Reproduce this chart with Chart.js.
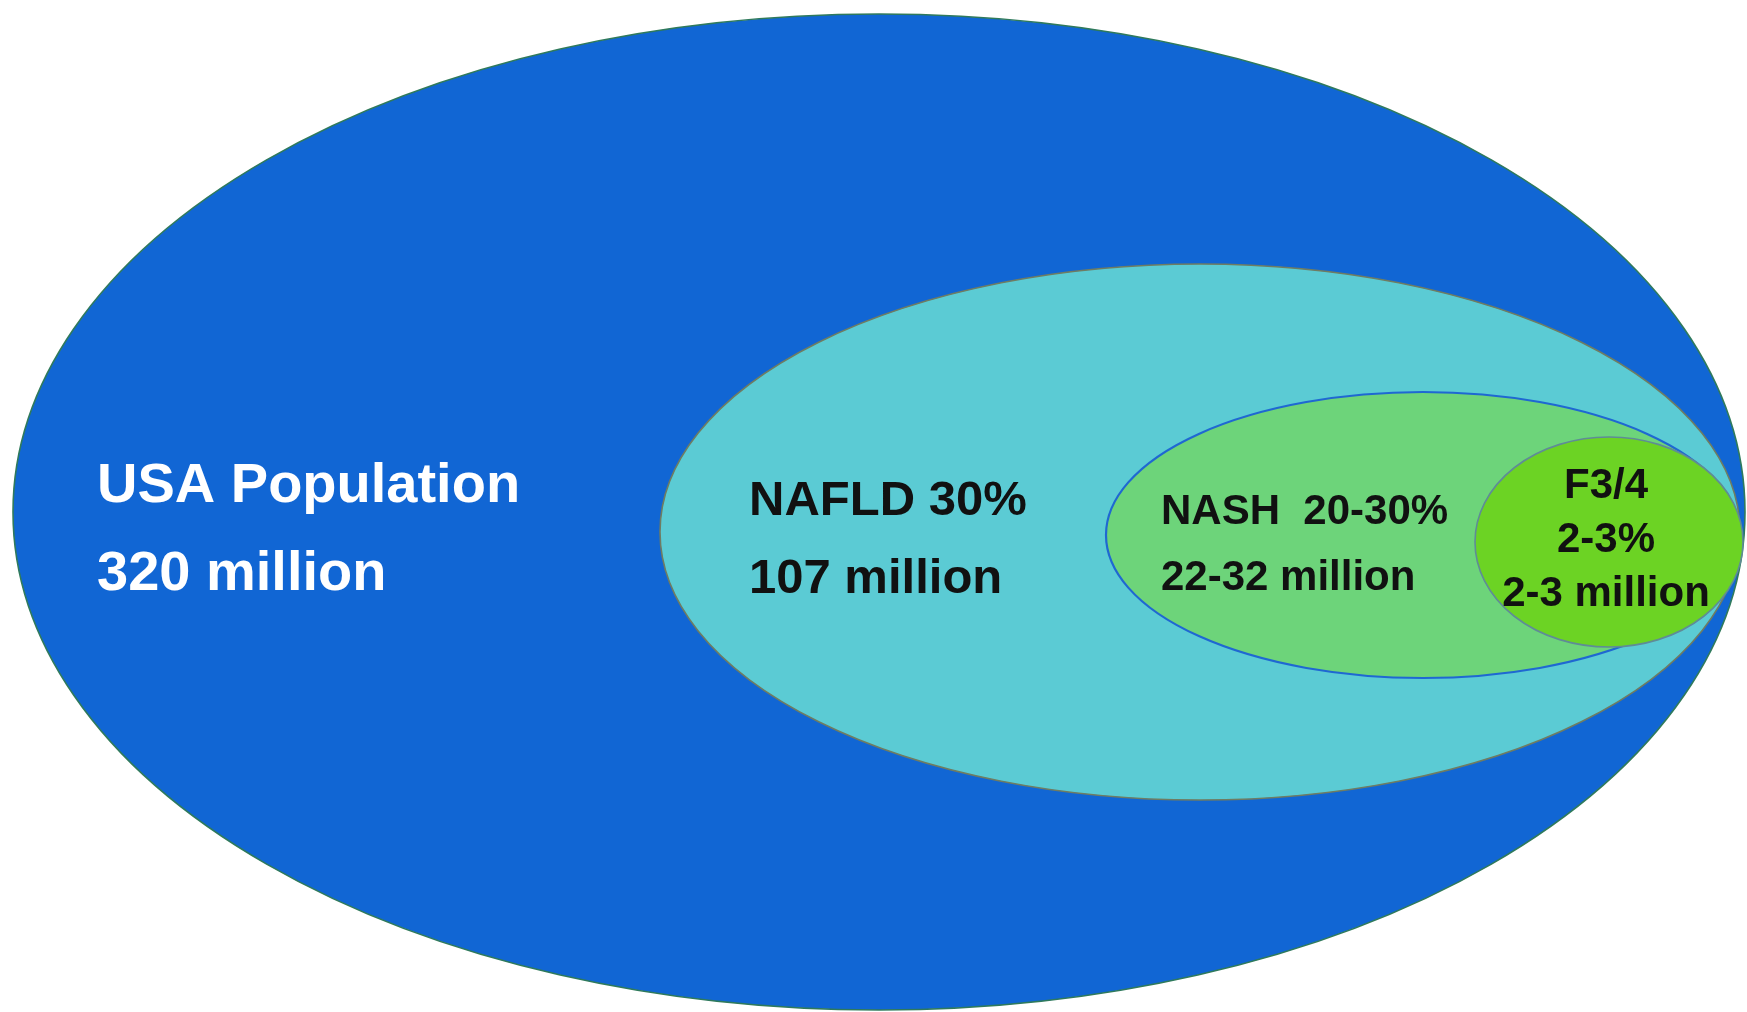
<!DOCTYPE html>
<html>
<head>
<meta charset="utf-8">
<title>USA NAFLD / NASH</title>
<script src="https://cdn.jsdelivr.net/npm/chart.js@4.4.1/dist/chart.umd.min.js"></script>
<style>
    html, body { margin: 0; padding: 0; background: #ffffff; overflow: hidden; }
    #wrap { width: 1747px; height: 1012px; }
</style>
</head>
<body>
<div id="wrap"><canvas id="diagram" width="1747" height="1012"></canvas></div>
<script>
// Datos: grupos anidados, de la poblacion total hacia adentro
const groups = ['USA Population', 'NAFLD', 'NASH', 'F3/4'];
const shares = ['', '30%', '20-30%', '2-3%'];
const counts = ['320 million', '107 million', '22-32 million', '2-3 million'];

// Extension de cada elipse en unidades del diagrama (centro y semiejes)
const centerX = [879, 1200, 1423, 1609];
const centerY = [512, 532, 535, 542];
const radiusX = [866, 540, 317, 134];
const radiusY = [498, 268, 143, 105];

const fills = ['#1166d4', '#5bcbd4', '#6dd47a', '#6cd324'];
const edges = ['#2f7a5c', '#6f7c62', '#1f68d2', '#5f8c96'];

// Donde va cada bloque de texto (primera linea) y como se alinea
const labelSpots = [
    { x: 97, y: 502, align: 'left', size: 56, gap: 88, color: '#ffffff' },
    { x: 749, y: 515, align: 'left', size: 49, gap: 78, color: '#111111' },
    { x: 1161, y: 524, align: 'left', size: 42, gap: 66, color: '#111111' },
    { x: 1606, y: 498, align: 'center', size: 42, gap: 54, color: '#111111' }
];

function labelLines(i) {
    if (i === 0) return [groups[0], counts[0]];
    if (i === 2) return [groups[2] + '  ' + shares[2], counts[2]];
    if (i === 3) return [groups[3], shares[3], counts[3]];
    return [groups[i] + ' ' + shares[i], counts[i]];
}

// Plugin que pinta las elipses usando las escalas del grafico
const ellipsePlugin = {
    id: 'ellipses',
    beforeDatasetsDraw(chart) {
        const ctx = chart.ctx;
        const xs = chart.scales.x;
        const ys = chart.scales.y;
        const meta = chart.data.datasets[0].data;
        ctx.save();
        meta.forEach((d, i) => {
            const px = xs.getPixelForValue(d.x);
            const py = ys.getPixelForValue(d.y);
            const rx = Math.abs(xs.getPixelForValue(d.x + d.rx) - px);
            const ry = Math.abs(ys.getPixelForValue(d.y + d.ry) - py);
            ctx.beginPath();
            ctx.ellipse(px, py, rx, ry, 0, 0, Math.PI * 2);
            ctx.fillStyle = fills[i];
            ctx.fill();
            ctx.lineWidth = i === 2 ? 2.2 : 1.6;
            ctx.strokeStyle = edges[i];
            ctx.stroke();
        });
        ctx.restore();
    },
    afterDatasetsDraw(chart) {
        const ctx = chart.ctx;
        const xs = chart.scales.x;
        const ys = chart.scales.y;
        ctx.save();
        labelSpots.forEach((s, i) => {
            ctx.font = 'bold ' + s.size + 'px "Liberation Sans", Arial, sans-serif';
            ctx.fillStyle = s.color;
            ctx.textAlign = s.align;
            ctx.textBaseline = 'alphabetic';
            labelLines(i).forEach((line, k) => {
                ctx.fillText(line, xs.getPixelForValue(s.x), ys.getPixelForValue(s.y + k * s.gap));
            });
        });
        ctx.restore();
    }
};

const points = groups.map((g, i) => ({ x: centerX[i], y: centerY[i], rx: radiusX[i], ry: radiusY[i] }));

new Chart(document.getElementById('diagram').getContext('2d'), {
    type: 'scatter',
    data: {
        labels: groups,
        datasets: [{ label: 'Poblacion', data: points, pointRadius: 0, pointHoverRadius: 0 }]
    },
    options: {
        responsive: false,
        animation: false,
        layout: { padding: 0 },
        plugins: { legend: { display: false }, tooltip: { enabled: false } },
        scales: {
            x: { type: 'linear', min: 0, max: 1747, display: false },
            y: { type: 'linear', min: 0, max: 1012, reverse: true, display: false }
        }
    },
    plugins: [ellipsePlugin]
});
</script>
</body>
</html>
